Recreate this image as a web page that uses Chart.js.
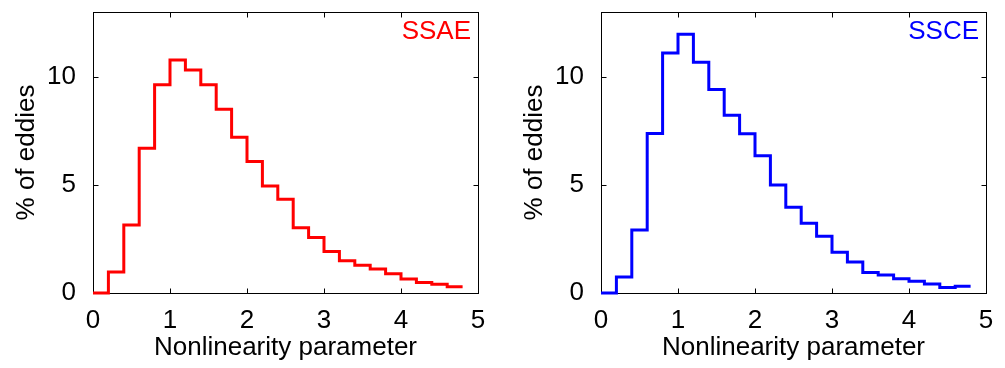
<!DOCTYPE html>
<html>
<head>
<meta charset="utf-8">
<script src="https://cdn.jsdelivr.net/npm/chart.js@4.4.1/dist/chart.umd.min.js"></script>
<style>
  html, body { margin: 0; padding: 0; background: #fff; }
  #wrap { position: relative; width: 1005px; height: 368px; }
  .panel { position: absolute; top: 0; width: 500px; height: 368px; }
  #p1 { left: 0; }
  #p2 { left: 508px; }
</style>
</head>
<body>
<div id="wrap">
  <div class="panel" id="p1"><canvas id="ssae"></canvas></div>
  <div class="panel" id="p2"><canvas id="ssce"></canvas></div>
</div>
<script>
// Bin left edges (width 0.2), last entry closes the final step
const binEdges = [0, 0.2, 0.4, 0.6, 0.8, 1.0, 1.2, 1.4, 1.6, 1.8, 2.0, 2.2,
                  2.4, 2.6, 2.8, 3.0, 3.2, 3.4, 3.6, 3.8, 4.0, 4.2, 4.4, 4.6, 4.8];

// % of eddies per bin
const ssaeValues = [0, 0.97, 3.15, 6.7, 9.63, 10.78, 10.32, 9.63, 8.5, 7.2, 6.08, 4.95,
                    4.34, 3.02, 2.57, 1.92, 1.49, 1.28, 1.11, 0.89, 0.65, 0.49, 0.4, 0.29];
const ssceValues = [0, 0.74, 2.92, 7.38, 11.1, 11.97, 10.68, 9.42, 8.22, 7.37, 6.35, 5.0,
                    3.97, 3.23, 2.62, 1.89, 1.43, 0.95, 0.83, 0.66, 0.54, 0.42, 0.26, 0.31];

const xTicks = [0, 1, 2, 3, 4, 5];
const yTicks = [0, 5, 10];
const xTitle = 'Nonlinearity parameter';
const yTitle = '% of eddies';

const FONT = "'Liberation Sans', Arial, sans-serif";
const FS = 26;

function stepPoints(values) {
    const pts = values.map((v, i) => ({ x: binEdges[i], y: v }));
    pts.push({ x: binEdges[binEdges.length - 1], y: values[values.length - 1] });
    return pts;
}

// Box around the axes, MATLAB-style inward ticks, and the series label
const boxPlugin = {
    id: 'box',
    beforeDatasetsDraw(chart) {
        const { ctx, chartArea: a, scales: { x, y } } = chart;
        const L = Math.round(a.left) + 0.5, R = Math.round(a.right) + 0.5;
        const T = Math.round(a.top) + 0.5, B = Math.round(a.bottom) + 0.5;
        ctx.save();
        ctx.strokeStyle = '#000';
        ctx.lineWidth = 1;
        ctx.strokeRect(L, T, R - L, B - T);
        ctx.beginPath();
        xTicks.forEach(v => {
            const px = Math.round(x.getPixelForValue(v)) + 0.5;
            ctx.moveTo(px, B); ctx.lineTo(px, B - 5);
            ctx.moveTo(px, T); ctx.lineTo(px, T + 5);
        });
        yTicks.forEach(v => {
            const py = Math.round(y.getPixelForValue(v)) + 0.5;
            ctx.moveTo(L, py); ctx.lineTo(L + 5, py);
            ctx.moveTo(R, py); ctx.lineTo(R - 5, py);
        });
        ctx.stroke();
        ctx.restore();
    },
    afterDraw(chart, args, opts) {
        const { ctx, chartArea: a } = chart;
        ctx.save();
        ctx.fillStyle = opts.color;
        ctx.font = FS + 'px ' + FONT;
        ctx.textAlign = 'right';
        ctx.textBaseline = 'middle';
        ctx.fillText(opts.text, a.right - 7, a.top + 20);
        ctx.restore();
    }
};

function makeChart(id, values, color, label) {
    return new Chart(document.getElementById(id), {
        type: 'line',
        data: {
            datasets: [{
                label: label,
                data: stepPoints(values),
                borderColor: color,
                borderWidth: 3,
                stepped: 'before',
                pointRadius: 0,
                fill: false,
                clip: 4
            }]
        },
        options: {
            responsive: true,
            maintainAspectRatio: false,
            animation: false,
            layout: { padding: { top: 12, right: 22, left: 0, bottom: 0 } },
            plugins: {
                legend: { display: false },
                tooltip: { enabled: false },
                box: { text: label, color: color }
            },
            scales: {
                x: {
                    type: 'linear',
                    min: 0, max: 5,
                    afterBuildTicks: s => { s.ticks = xTicks.map(v => ({ value: v })); },
                    afterFit: s => { s.height = 75; s.paddingLeft = 0; s.paddingRight = 0; },
                    grid: { display: false },
                    border: { display: false },
                    ticks: { color: '#000', padding: 4, font: { family: FONT, size: FS } },
                    title: { display: true, text: xTitle, color: '#000', padding: { top: 0, bottom: 5 },
                             font: { family: FONT, size: FS } }
                },
                y: {
                    type: 'linear',
                    min: 0, max: 13,
                    afterBuildTicks: s => { s.ticks = yTicks.map(v => ({ value: v })); },
                    afterFit: s => { s.width = 93; s.paddingTop = 0; s.paddingBottom = 0; },
                    grid: { display: false },
                    border: { display: false },
                    ticks: { color: '#000', padding: 9, font: { family: FONT, size: FS } },
                    title: { display: true, text: yTitle, color: '#000', padding: { top: 11, bottom: 0 },
                             font: { family: FONT, size: FS } }
                }
            }
        },
        plugins: [boxPlugin]
    });
}

makeChart('ssae', ssaeValues, '#ff0000', 'SSAE');
makeChart('ssce', ssceValues, '#0000ff', 'SSCE');
</script>
</body>
</html>
